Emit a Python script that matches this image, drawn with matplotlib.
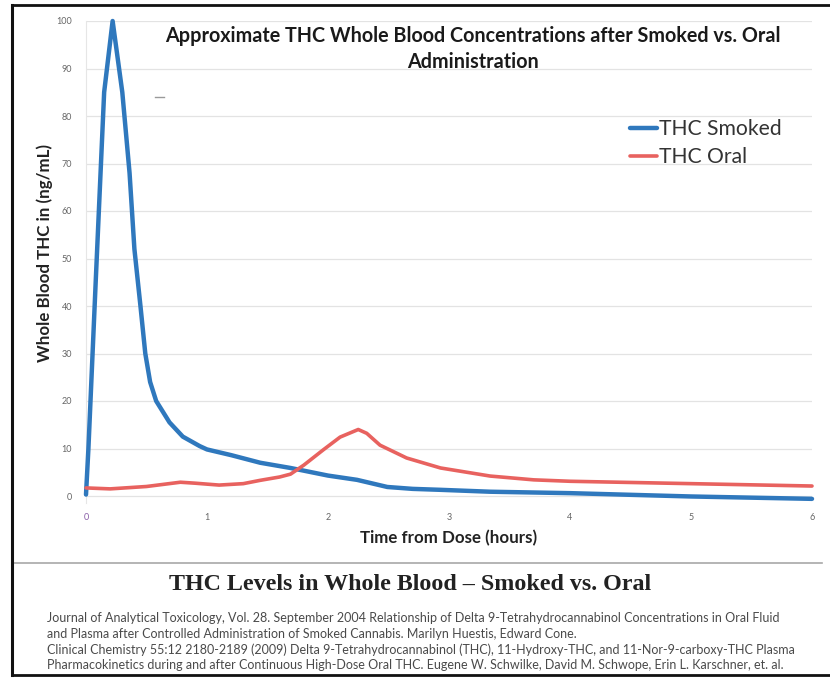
import matplotlib
matplotlib.use("Agg")
import matplotlib.pyplot as plt
from matplotlib.lines import Line2D

# ---- data ----
smoked_t = [0.0, 0.02, 0.08, 0.15, 0.22, 0.30, 0.36, 0.40, 0.45, 0.49, 0.53, 0.58,
            0.69, 0.80, 0.94, 1.0, 1.2, 1.44, 1.69, 2.0, 2.24, 2.49, 2.7, 2.93,
            3.34, 4.0, 5.0, 6.0]
smoked_y = [0.3, 10, 45, 85, 100, 85, 68, 52, 40, 30, 24, 20,
            15.5, 12.5, 10.5, 9.8, 8.6, 7.0, 5.9, 4.3, 3.4, 1.9, 1.5, 1.3,
            0.9, 0.6, -0.1, -0.6]
oral_t = [0.0, 0.2, 0.5, 0.78, 0.9, 1.1, 1.3, 1.44, 1.6, 1.69, 1.8, 1.96, 2.1,
          2.25, 2.32, 2.43, 2.65, 2.93, 3.34, 3.7, 4.0, 5.0, 6.0]
oral_y = [1.7, 1.5, 2.0, 2.9, 2.7, 2.3, 2.6, 3.3, 4.0, 4.6, 6.5, 9.7, 12.4,
          14.0, 13.2, 10.7, 8.0, 5.9, 4.2, 3.4, 3.1, 2.6, 2.1]
series_names = ["THC Smoked", "THC Oral"]
x_ticks = [0, 1, 2, 3, 4, 5, 6]
y_ticks = [0, 10, 20, 30, 40, 50, 60, 70, 80, 90, 100]

chart_title = "Approximate THC Whole Blood Concentrations after Smoked vs. Oral\nAdministration"
x_label = "Time from Dose (hours)"
y_label = "Whole Blood THC in (ng/mL)"
main_caption = "THC Levels in Whole Blood \u2013 Smoked vs. Oral"
citations = [
    "Journal of Analytical Toxicology, Vol. 28. September 2004 Relationship of Delta 9-Tetrahydrocannabinol Concentrations in Oral Fluid",
    "and Plasma after Controlled Administration of Smoked Cannabis. Marilyn Huestis, Edward Cone.",
    "Clinical Chemistry 55:12 2180-2189 (2009) Delta 9-Tetrahydrocannabinol (THC), 11-Hydroxy-THC, and 11-Nor-9-carboxy-THC Plasma",
    "Pharmacokinetics during and after Continuous High-Dose Oral THC. Eugene W. Schwilke, David M. Schwope, Erin L. Karschner, et. al.",
]

W, H = 830, 678
BLUE = "#2f78bd"
RED = "#e8625f"
SANS = ["Lato", "DejaVu Sans"]

plt.rcParams["font.family"] = SANS
fig = plt.figure(figsize=(W / 100, H / 100), dpi=100)
fig.patch.set_facecolor("white")

def fx(px):
    return px / W

def fy(py):
    return 1 - py / H

# axes placement
ymin, ymax = -1.5, 100
y0_px, y100_px = 496, 21
ppu = (y0_px - y100_px) / 100.0
bottom_px = y0_px - ymin * ppu
ax = fig.add_axes([fx(86), fy(bottom_px), fx(812) - fx(86), fy(y100_px) - fy(bottom_px)])
ax.set_xlim(0, 6)
ax.set_ylim(ymin, ymax)
for s in ["top", "right", "bottom"]:
    ax.spines[s].set_visible(False)
ax.spines["left"].set_color("#e6e6e6")
ax.spines["left"].set_linewidth(0.8)
ax.set_yticks(y_ticks)
ax.set_xticks(x_ticks)
ax.set_yticklabels([str(v) for v in y_ticks])
ax.set_xticklabels([str(v) for v in x_ticks])
ax.tick_params(axis="both", length=0, labelsize=6.5, labelcolor="#666666")
ax.tick_params(axis="y", pad=10)
ax.tick_params(axis="x", pad=7)
ax.get_xticklabels()[0].set_color("#8a5fa8")
ax.grid(axis="y", color="#e3e3e3", linewidth=0.9)
ax.set_axisbelow(True)

l1, = ax.plot(smoked_t, smoked_y, color=BLUE, lw=3.2, solid_joinstyle="round",
              solid_capstyle="round", clip_on=False, zorder=3)
l2, = ax.plot(oral_t, oral_y, color=RED, lw=2.6, solid_joinstyle="round",
              solid_capstyle="round", clip_on=False, zorder=3)

leg = ax.legend([l1, l2], series_names, loc="upper left",
                bbox_to_anchor=((630 - 86) / (812 - 86), 1 - (119 - y100_px) / (bottom_px - y100_px)),
                frameon=False, fontsize=15.2, handlelength=1.3, handletextpad=0.05,
                labelspacing=0.38, borderaxespad=0, borderpad=0)
for t in leg.get_texts():
    t.set_color("#333333")

# chart title
fig.text(fx(473), fy(49), chart_title, ha="center", va="center", fontsize=14.2,
         fontweight="bold", color="#1a1a1a", linespacing=1.42)

# axis labels
fig.text(fx(45), fy(253), y_label, rotation=90, ha="center", va="center",
         fontsize=12.2, fontweight="bold", color="#222222")
fig.text(fx(449), fy(538), x_label, ha="center", va="center",
         fontsize=12.2, fontweight="bold", color="#222222")

# stray mark
fig.add_artist(Line2D([fx(155), fx(164)], [fy(97), fy(97)], color="#9a9a9a", lw=1))

# separator and frame
fig.add_artist(Line2D([fx(12), fx(822)], [fy(563), fy(563)], color="#a8a8a8", lw=1.2))
fig.add_artist(Line2D([fx(12), fx(12)], [fy(5), fy(675)], color="#111111", lw=2.2))
fig.add_artist(Line2D([fx(12), fx(830)], [fy(5), fy(5)], color="#111111", lw=2.0))
fig.add_artist(Line2D([fx(12), fx(830)], [fy(675), fy(675)], color="#111111", lw=2.0))

# caption
fig.text(fx(410), fy(584), main_caption, ha="center", va="center",
         fontsize=17.3, fontweight="bold", color="#222222",
         family=["Liberation Serif", "DejaVu Serif"])

cy = [618, 634, 650, 665]
for txt, y in zip(citations, cy):
    fig.text(fx(47), fy(y), txt, ha="left", va="center", fontsize=9.0,
             color="#4a4a4a")

fig.savefig("out.png", dpi=100, facecolor="white")
